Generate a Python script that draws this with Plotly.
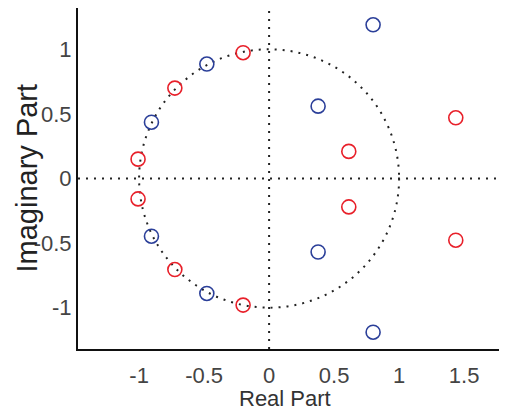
import plotly.graph_objects as go

# Poles/zeros
blue_re = [0.80, 0.377, 0.377, 0.80, -0.479, -0.905, -0.905, -0.479]
blue_im = [1.19, 0.56, -0.569, -1.19, 0.886, 0.436, -0.447, -0.89]
red_re = [-0.20, -0.725, -1.008, -1.008, -0.725, -0.20, 0.613, 0.613, 1.436, 1.436]
red_im = [0.974, 0.70, 0.15, -0.158, -0.705, -0.98, 0.21, -0.22, 0.47, -0.478]

x_ticks = [-1, -0.5, 0, 0.5, 1, 1.5]
x_tick_labels = ["-1", "-0.5", "0", "0.5", "1", "1.5"]
y_ticks = [-1, -0.5, 0, 0.5, 1]
y_tick_labels = ["-1", "-0.5", "0", "0.5", "1"]

x_range = [-1.47, 1.83]
y_range = [-1.32, 1.32]

dot = dict(color="#222", width=2, dash="2px,6px")

fig = go.Figure()
fig.add_trace(go.Scatter(
    x=blue_re, y=blue_im, mode="markers",
    marker=dict(symbol="circle-open", size=14, color="#2b3f99", line=dict(width=1.6)),
    showlegend=False))
fig.add_trace(go.Scatter(
    x=red_re, y=red_im, mode="markers",
    marker=dict(symbol="circle-open", size=14, color="#e8202a", line=dict(width=1.6)),
    showlegend=False))

# unit circle and axes (dotted)
fig.add_shape(type="circle", xref="x", yref="y", x0=-1, y0=-1, x1=1, y1=1,
              line=dot, layer="below")
fig.add_shape(type="line", xref="paper", yref="y", x0=0, x1=1, y0=0, y1=0,
              line=dot, layer="below")
fig.add_shape(type="line", xref="x", yref="paper", x0=0, x1=0, y0=0, y1=1,
              line=dot, layer="below")

font_family = "Liberation Sans, Arial, sans-serif"
# axis titles as annotations for exact placement
fig.add_annotation(text="Imaginary Part", xref="paper", yref="paper", x=0, y=0.5,
                   xanchor="center", yanchor="middle", xshift=-52, textangle=-90,
                   showarrow=False, borderpad=0,
                   font=dict(size=29, color="#222", family=font_family))
fig.add_annotation(text="Real Part", xref="paper", yref="paper", x=0.5, y=0,
                   xanchor="center", yanchor="middle", yshift=-49, xshift=-8,
                   showarrow=False, font=dict(size=22, color="#333", family=font_family))

# page body has an 8px margin, so the figure is sized to fit the window
fig.update_layout(
    width=499, height=404,
    margin=dict(l=70, r=0, t=0, b=63),
    paper_bgcolor="white", plot_bgcolor="white",
    font=dict(family=font_family, color="#333"),
    xaxis=dict(range=x_range, tickvals=x_ticks, ticktext=x_tick_labels,
               showgrid=False, zeroline=False, showline=True, linecolor="#111",
               linewidth=2, ticks="outside", ticklen=0, automargin=False,
               tickfont=dict(size=22, color="#444"), ticklabelstandoff=6),
    yaxis=dict(range=y_range, tickvals=y_ticks, ticktext=y_tick_labels,
               showgrid=False, zeroline=False, showline=True, linecolor="#111",
               linewidth=2, ticks="outside", ticklen=0, automargin=False,
               tickfont=dict(size=22, color="#444"), ticklabelstandoff=0),
)

fig.write_html("out.html")
